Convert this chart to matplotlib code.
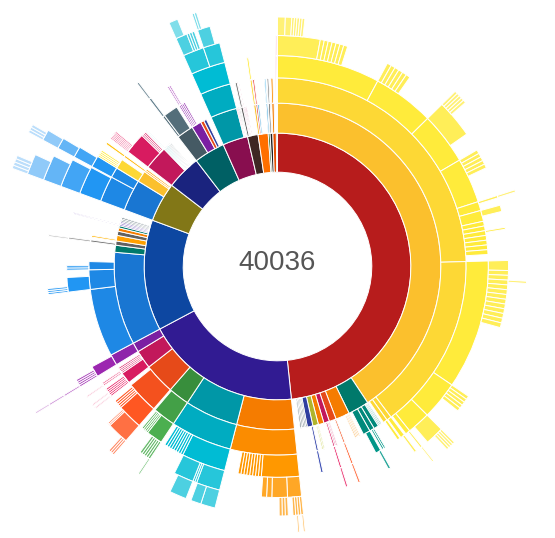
import matplotlib
matplotlib.use('Agg')
import matplotlib.pyplot as plt
import numpy as np

# material colours, shade picked by depth (900, 700, 600, 500, 400, 300, 200, 100)
palette = {
    'red':        ['#B71C1C', '#D32F2F', '#E53935', '#F44336', '#EF5350', '#E57373', '#EF9A9A', '#FFCDD2'],
    'pink':       ['#880E4F', '#C2185B', '#D81B60', '#E91E63', '#EC407A', '#F06292', '#F48FB1', '#F8BBD0'],
    'purple':     ['#4A148C', '#7B1FA2', '#8E24AA', '#9C27B0', '#AB47BC', '#BA68C8', '#CE93D8', '#E1BEE7'],
    'deeppurple': ['#311B92', '#512DA8', '#5E35B1', '#673AB7', '#7E57C2', '#9575CD', '#B39DDB', '#D1C4E9'],
    'indigo':     ['#1A237E', '#303F9F', '#3949AB', '#3F51B5', '#5C6BC0', '#7986CB', '#9FA8DA', '#C5CAE9'],
    'blue':       ['#0D47A1', '#1976D2', '#1E88E5', '#2196F3', '#42A5F5', '#64B5F6', '#90CAF9', '#BBDEFB'],
    'lightblue':  ['#01579B', '#0288D1', '#039BE5', '#03A9F4', '#29B6F6', '#4FC3F7', '#81D4FA', '#B3E5FC'],
    'cyan':       ['#006064', '#0097A7', '#00ACC1', '#00BCD4', '#26C6DA', '#4DD0E1', '#80DEEA', '#B2EBF2'],
    'teal':       ['#004D40', '#00796B', '#00897B', '#009688', '#26A69A', '#4DB6AC', '#80CBC4', '#B2DFDB'],
    'green':      ['#1B5E20', '#388E3C', '#43A047', '#4CAF50', '#66BB6A', '#81C784', '#A5D6A7', '#C8E6C9'],
    'lime':       ['#827717', '#AFB42B', '#C0CA33', '#CDDC39', '#D4E157', '#DCE775', '#E6EE9C', '#F0F4C3'],
    'yellow':     ['#F57F17', '#FBC02D', '#FDD835', '#FFEB3B', '#FFEE58', '#FFF176', '#FFF59D', '#FFF9C4'],
    'amber':      ['#FF6F00', '#FFA000', '#FFB300', '#FFC107', '#FFCA28', '#FFD54F', '#FFE082', '#FFECB3'],
    'orange':     ['#E65100', '#F57C00', '#FB8C00', '#FF9800', '#FFA726', '#FFB74D', '#FFCC80', '#FFE0B2'],
    'deeporange': ['#BF360C', '#E64A19', '#F4511E', '#FF5722', '#FF7043', '#FF8A65', '#FFAB91', '#FFCCBC'],
    'brown':      ['#3E2723', '#5D4037', '#6D4C41', '#795548', '#8D6E63', '#A1887F', '#BCAAA4', '#D7CCC8'],
    'grey':       ['#212121', '#616161', '#757575', '#9E9E9E', '#BDBDBD', '#E0E0E0', '#EEEEEE', '#F5F5F5'],
    'bluegrey':   ['#263238', '#455A64', '#546E7A', '#607D8B', '#78909C', '#90A4AE', '#B0BEC5', '#CFD8DC'],
}

# (parent path, colour family, count) for each ring, children in drawing order
ring1 = [('', 'red', 19352), ('', 'deeppurple', 7562), ('', 'blue', 5371), ('', 'lime', 1913),
         ('', 'indigo', 1668), ('', 'cyan', 1501), ('', 'pink', 1223), ('', 'brown', 512),
         ('', 'amber', 489), ('', 'green', 89), ('', 'grey', 133), ('', 'orange', 167),
         ('', 'bluegrey', 56)]

ring2 = [('0', 'yellow', 16292), ('0', 'teal', 834), ('0', 'orange', 556), ('0', 'deeporange', 278),
         ('0', 'pink', 222), ('0', 'orange', 222), ('0', 'lime', 222), ('0', 'indigo', 222),
         ('0', 'bluegrey', 56), ('0', 'bluegrey', 56), ('0', 'bluegrey', 56), ('0', 'bluegrey', 56),
         ('0', 'bluegrey', 56),
         ('1', 'orange', 2280), ('1', 'cyan', 2113), ('1', 'green', 834), ('1', 'deeporange', 1223),
         ('1', 'pink', 734), ('1', 'purple', 378),
         ('2', 'blue', 3670), ('2', 'teal', 278), ('2', 'grey', 167), ('2', 'amber', 222),
         ('2', 'grey', 167), ('2', 'orange', 133), ('2', 'teal', 89), ('2', 'deeppurple', 56),
         ('2', 'deeppurple', 56), ('2', 'deeppurple', 56), ('2', 'bluegrey', 56), ('2', 'bluegrey', 56),
         ('2', 'bluegrey', 56),
         ('3', 'blue', 1246), ('3', 'yellow', 445), ('3', 'amber', 67), ('3', 'amber', 67),
         ('4', 'pink', 945), ('4', 'cyan', 44), ('4', 'cyan', 44), ('4', 'cyan', 44), ('4', 'cyan', 44),
         ('4', 'cyan', 44), ('4', 'bluegrey', 44), ('4', 'bluegrey', 44), ('4', 'bluegrey', 44),
         ('5', 'bluegrey', 667), ('5', 'purple', 389), ('5', 'deeporange', 133), ('5', 'indigo', 111),
         ('6', 'cyan', 1056), ('6', 'pink', 44), ('6', 'pink', 44), ('6', 'grey', 44),
         ('7', 'grey', 89), ('7', 'pink', 44), ('7', 'pink', 44), ('7', 'pink', 44),
         ('8', 'yellow', 89), ('8', 'red', 67), ('8', 'lightblue', 56),
         ('9', 'lightblue', 56), ('10', 'grey', 67), ('11', 'orange', 89), ('12', 'pink', 33)]

ring3 = [('0.0', 'yellow', 9842), ('0.0', 'yellow', 6061), ('0.0', 'yellow', 167), ('0.0', 'yellow', 145),
         ('0.1', 'teal', 44), ('0.1', 'teal', 44), ('0.1', 'teal', 44), ('0.1', 'teal', 167),
         ('0.1', 'teal', 167), ('0.1', 'teal', 245),
         ('0.2', 'orange', 44), ('0.2', 'orange', 44), ('0.2', 'orange', 44), ('0.2', 'orange', 44),
         ('0.3', 'deeporange', 56),
         ('0.4', 'pink', 44), ('0.4', 'pink', 44), ('0.4', 'pink', 56),
         ('0.6', 'lime', 44), ('0.6', 'lime', 44), ('0.7', 'indigo', 67),
         ('1.0', 'orange', 2280), ('1.1', 'cyan', 2113), ('1.2', 'green', 778), ('1.3', 'deeporange', 1112),
         ('1.4', 'pink', 389), ('1.4', 'pink', 56), ('1.4', 'pink', 56), ('1.4', 'pink', 56),
         ('1.4', 'pink', 56), ('1.5', 'purple', 378),
         ('2.0', 'blue', 2335), ('2.0', 'blue', 667), ('2.0', 'blue', 278),
         ('2.2', 'grey', 67), ('2.3', 'amber', 56), ('2.7', 'deeppurple', 33),
         ('3.0', 'blue', 890), ('3.0', 'blue', 356), ('3.1', 'yellow', 334), ('3.2', 'amber', 67),
         ('4.0', 'pink', 723), ('4.0', 'pink', 56), ('4.0', 'pink', 56), ('4.0', 'pink', 56),
         ('4.1', 'cyan', 33),
         ('5.0', 'bluegrey', 78), ('5.0', 'bluegrey', 500),
         ('5.1', 'purple', 56), ('5.1', 'purple', 56), ('5.1', 'purple', 56), ('5.1', 'purple', 56),
         ('6.0', 'cyan', 1056), ('7.0', 'grey', 67), ('7.1', 'pink', 33), ('8.0', 'yellow', 67),
         ('8.1', 'red', 56), ('9.0', 'lightblue', 44), ('10.0', 'grey', 56), ('11.0', 'orange', 67),
         ('12.0', 'pink', 33)]

ring4 = [('0.0.0', 'yellow', 3158), ('0.0.0', 'yellow', 1891), ('0.0.0', 'yellow', 1590),
         ('0.0.0', 'yellow', 1379), ('0.0.0', 'yellow', 278), ('0.0.0', 'yellow', 334),
         ('0.0.0', 'yellow', 145), ('0.0.0', 'yellow', 145), ('0.0.0', 'yellow', 145),
         ('0.0.0', 'yellow', 145), ('0.0.0', 'yellow', 145), ('0.0.0', 'yellow', 145),
         ('0.0.0', 'yellow', 145),
         ('0.0.1', 'yellow', 3970), ('0.0.1', 'yellow', 1179), ('0.0.1', 'yellow', 712),
         ('0.0.1', 'yellow', 145),
         ('0.0.2', 'yellow', 133), ('0.0.3', 'yellow', 89),
         ('0.1.4', 'teal', 56), ('0.1.4', 'teal', 56), ('0.1.5', 'teal', 167),
         ('0.3.0', 'deeporange', 56), ('0.4.2', 'pink', 56), ('0.7.0', 'indigo', 67),
         ('1.0.0', 'orange', 1157), ('1.0.0', 'orange', 89), ('1.0.0', 'orange', 89), ('1.0.0', 'orange', 89),
         ('1.0.0', 'orange', 89), ('1.0.0', 'orange', 89), ('1.0.0', 'orange', 89), ('1.0.0', 'orange', 89),
         ('1.0.0', 'orange', 89),
         ('1.1.0', 'cyan', 1357), ('1.1.0', 'cyan', 78), ('1.1.0', 'cyan', 78), ('1.1.0', 'cyan', 78),
         ('1.1.0', 'cyan', 78), ('1.1.0', 'cyan', 78), ('1.1.0', 'cyan', 78), ('1.1.0', 'cyan', 78),
         ('1.1.0', 'cyan', 78),
         ('1.2.0', 'green', 500), ('1.2.0', 'green', 56), ('1.2.0', 'green', 56), ('1.2.0', 'green', 56),
         ('1.2.0', 'green', 56),
         ('1.3.0', 'deeporange', 778), ('1.3.0', 'deeporange', 67), ('1.3.0', 'deeporange', 67),
         ('1.3.0', 'deeporange', 67), ('1.3.0', 'deeporange', 67),
         ('1.4.0', 'pink', 56), ('1.4.0', 'pink', 56), ('1.4.0', 'pink', 56), ('1.4.0', 'pink', 56),
         ('1.4.0', 'pink', 56), ('1.4.1', 'pink', 44), ('1.4.2', 'pink', 44),
         ('1.5.0', 'purple', 334),
         ('2.0.1', 'blue', 445), ('2.0.2', 'blue', 67), ('2.0.2', 'blue', 67),
         ('2.2.0', 'grey', 56), ('2.7.0', 'deeppurple', 33),
         ('3.0.0', 'blue', 856), ('3.0.1', 'blue', 356),
         ('3.1.0', 'yellow', 56), ('3.1.0', 'yellow', 56), ('3.1.0', 'yellow', 56), ('3.1.0', 'yellow', 56),
         ('3.2.0', 'amber', 67),
         ('4.0.0', 'pink', 44), ('4.0.0', 'pink', 44), ('4.0.0', 'pink', 44), ('4.0.0', 'pink', 44),
         ('4.0.0', 'pink', 44), ('4.0.0', 'pink', 44),
         ('5.0.0', 'bluegrey', 67), ('5.1.0', 'purple', 44), ('5.1.1', 'purple', 44),
         ('6.0.0', 'cyan', 1056), ('8.0.0', 'yellow', 56), ('12.0.0', 'pink', 33)]

ring5 = [('0.0.0.0', 'yellow', 1190), ('0.0.0.0', 'yellow', 111), ('0.0.0.0', 'yellow', 111),
         ('0.0.0.0', 'yellow', 111), ('0.0.0.0', 'yellow', 111), ('0.0.0.0', 'yellow', 111),
         ('0.0.0.0', 'yellow', 111), ('0.0.0.0', 'yellow', 111),
         ('0.0.0.1', 'yellow', 122), ('0.0.0.1', 'yellow', 122), ('0.0.0.1', 'yellow', 122),
         ('0.0.0.1', 'yellow', 122), ('0.0.0.1', 'yellow', 122), ('0.0.0.1', 'yellow', 122),
         ('0.0.0.2', 'yellow', 1068),
         ('0.0.0.3', 'yellow', 111), ('0.0.0.3', 'yellow', 111), ('0.0.0.3', 'yellow', 111),
         ('0.0.0.3', 'yellow', 111), ('0.0.0.3', 'yellow', 111),
         ('0.0.0.4', 'yellow', 67), ('0.0.0.5', 'yellow', 178), ('0.0.0.8', 'yellow', 56),
         ('0.0.1.0', 'yellow', 278), ('0.0.1.0', 'yellow', 133), ('0.0.1.0', 'yellow', 133),
         ('0.0.1.0', 'yellow', 133), ('0.0.1.0', 'yellow', 133), ('0.0.1.0', 'yellow', 133),
         ('0.0.1.0', 'yellow', 133), ('0.0.1.0', 'yellow', 133), ('0.0.1.0', 'yellow', 133),
         ('0.0.1.0', 'yellow', 133), ('0.0.1.0', 'yellow', 133), ('0.0.1.0', 'yellow', 133),
         ('0.0.1.0', 'yellow', 133),
         ('0.0.1.1', 'yellow', 100), ('0.0.1.1', 'yellow', 100), ('0.0.1.1', 'yellow', 100),
         ('0.0.1.1', 'yellow', 100), ('0.0.1.1', 'yellow', 100),
         ('0.0.1.2', 'yellow', 523), ('0.0.1.3', 'yellow', 56), ('0.0.2.0', 'yellow', 67),
         ('0.1.5.0', 'teal', 67), ('0.3.0.0', 'deeporange', 56), ('0.4.2.0', 'pink', 56),
         ('1.0.0.0', 'orange', 389), ('1.0.0.0', 'orange', 434), ('1.0.0.0', 'orange', 145),
         ('1.0.0.0', 'orange', 145),
         ('1.1.0.0', 'cyan', 667), ('1.1.0.0', 'cyan', 56), ('1.1.0.0', 'cyan', 56), ('1.1.0.0', 'cyan', 556),
         ('1.2.0.0', 'green', 67), ('1.2.0.0', 'green', 67), ('1.2.0.0', 'green', 67),
         ('1.2.0.0', 'green', 67), ('1.2.0.0', 'green', 67),
         ('1.3.0.0', 'deeporange', 612), ('1.3.0.0', 'deeporange', 44), ('1.3.0.0', 'deeporange', 44),
         ('1.4.0.0', 'pink', 33), ('1.4.0.2', 'pink', 33), ('1.4.1.0', 'pink', 33),
         ('1.5.0.0', 'purple', 56), ('1.5.0.0', 'purple', 56), ('1.5.0.0', 'purple', 56),
         ('1.5.0.0', 'purple', 56),
         ('2.0.1.0', 'blue', 56), ('2.0.1.0', 'blue', 56), ('2.0.1.0', 'blue', 56),
         ('2.2.0.0', 'grey', 44),
         ('3.0.0.0', 'blue', 801), ('3.0.1.0', 'blue', 311),
         ('5.0.0.0', 'bluegrey', 56),
         ('6.0.0.0', 'cyan', 589), ('6.0.0.0', 'cyan', 467),
         ('12.0.0.0', 'pink', 33)]

ring6 = [('0.0.0.0.0', 'yellow', 200), ('0.0.0.0.0', 'yellow', 167), ('0.0.0.0.0', 'yellow', 67),
         ('0.0.0.0.0', 'yellow', 67), ('0.0.0.0.0', 'yellow', 67), ('0.0.0.0.0', 'yellow', 67),
         ('0.0.0.0.0', 'yellow', 67),
         ('0.0.0.2.0', 'yellow', 78), ('0.0.0.2.0', 'yellow', 78), ('0.0.0.2.0', 'yellow', 78),
         ('0.0.0.2.0', 'yellow', 78), ('0.0.0.2.0', 'yellow', 78),
         ('0.0.0.4.0', 'yellow', 56), ('0.0.1.0.3', 'yellow', 56),
         ('0.0.1.2.0', 'yellow', 67), ('0.0.1.2.0', 'yellow', 67), ('0.0.1.2.0', 'yellow', 67),
         ('0.0.1.2.0', 'yellow', 67), ('0.0.1.3.0', 'yellow', 44),
         ('1.0.0.0.0', 'orange', 67), ('1.0.0.0.0', 'orange', 67), ('1.0.0.0.0', 'orange', 67),
         ('1.0.0.0.0', 'orange', 67),
         ('1.0.0.0.1', 'orange', 78), ('1.0.0.0.1', 'orange', 78), ('1.0.0.0.1', 'orange', 78),
         ('1.1.0.0.0', 'cyan', 378), ('1.1.0.0.0', 'cyan', 267), ('1.1.0.0.3', 'cyan', 445),
         ('1.2.0.0.0', 'green', 44),
         ('1.3.0.0.0', 'deeporange', 56), ('1.3.0.0.0', 'deeporange', 56), ('1.3.0.0.0', 'deeporange', 56),
         ('1.5.0.0.0', 'purple', 44),
         ('3.0.0.0.0', 'blue', 667), ('3.0.1.0.0', 'blue', 289),
         ('6.0.0.0.0', 'cyan', 300), ('6.0.0.0.0', 'cyan', 67), ('6.0.0.0.0', 'cyan', 67),
         ('6.0.0.0.0', 'cyan', 67), ('6.0.0.0.1', 'cyan', 334)]

ring7 = [('1.0.0.0.0.0', 'orange', 44), ('1.0.0.0.0.2', 'orange', 44),
         ('1.5.0.0.0.0', 'purple', 44),
         ('3.0.0.0.0.0', 'blue', 500), ('3.0.1.0.0.0', 'blue', 267),
         ('6.0.0.0.0.0', 'cyan', 222), ('6.0.0.0.1.0', 'cyan', 56), ('6.0.0.0.1.0', 'cyan', 56)]

ring8 = [('1.5.0.0.0.0.0', 'purple', 44),
         ('3.0.0.0.0.0.0', 'blue', 78), ('3.0.0.0.0.0.0', 'blue', 78), ('3.0.0.0.0.0.0', 'blue', 78),
         ('3.0.0.0.0.0.0', 'blue', 78),
         ('3.0.1.0.0.0.0', 'blue', 67), ('3.0.1.0.0.0.0', 'blue', 67), ('3.0.1.0.0.0.0', 'blue', 67)]

rings = [ring1, ring2, ring3, ring4, ring5, ring6, ring7, ring8]
total = sum(v for _, _, v in ring1)

W, H = 555, 538
cx, cy = 277.5, 266.5      # centre in pixels from top-left
R = 300                    # radial limit of the polar axes, in pixels
step = 94.3                # radius of ring d starts at step*sqrt(d)

fig = plt.figure(figsize=(W / 100, H / 100), dpi=100)
ax = fig.add_axes([(cx - R) / W, (H - cy - R) / H, 2 * R / W, 2 * R / H], projection='polar')
ax.set_theta_zero_location('N')
ax.set_theta_direction(-1)
ax.set_rlim(0, R)
ax.set_axis_off()

start = {'': 0.0}
cursor = {}
nchild = {}
for depth, ring in enumerate(rings, start=1):
    thetas, widths, colors = [], [], []
    for parent, hue, value in ring:
        k = nchild.get(parent, 0)
        nchild[parent] = k + 1
        path = f'{parent}.{k}' if parent else str(k)
        a0 = cursor.get(parent, start[parent])
        w = 2 * np.pi * value / total
        cursor[parent] = a0 + w
        start[path] = a0
        thetas.append(a0 + w / 2)
        widths.append(w)
        colors.append(palette[hue][depth - 1])
    r0 = step * np.sqrt(depth)
    r1 = step * np.sqrt(depth + 1)
    ax.bar(thetas, r1 - r0, width=widths, bottom=r0, color=colors,
           edgecolor='white', linewidth=0.7)

fig.text(cx / W, 1 - 263 / H, f'{total}', ha='center', va='center',
         fontsize=20, color='#555555', family='Liberation Sans')

fig.savefig('out.png', dpi=100)
